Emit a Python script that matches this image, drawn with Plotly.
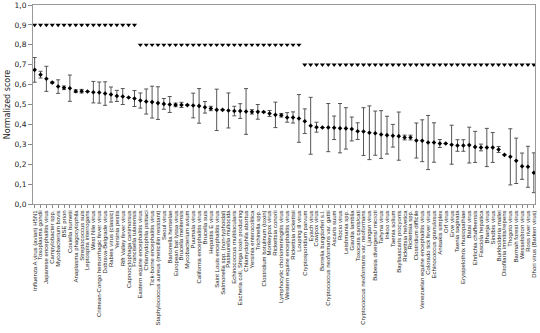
import plotly.graph_objects as go

pathogens = [
    "Influenza A virus (avian) H5N1", "Toxoplasma gondii", "Japanese encephalitis virus",
    "Campylobacter spp.", "Mycobacterium bovis", "BSE prion", "Coxiella burnetii",
    "Anaplasma phagocytophila", "Streptococcus suis", "Leptospira interrogans",
    "West Nile virus", "Crimean-Congo hemorrhagic fever virus", "Dobrava-Belgrade virus",
    "Rabies virus (classic)", "Yersinia pestis", "Rift Valley fever virus",
    "Capnocytophaga canimorsus", "Francisella tularensis",
    "Eastern equine encephalitis virus", "Chlamydophila psittaci",
    "Tick-borne encephalitis virus", "Staphylococcus aureus (meticillin resistant)",
    "Seoul virus", "Bartonella henselae", "European bat lyssa virus",
    "Brucella melitensis", "Mycobacterium avium", "Puumala virus",
    "California encephalitis virus", "Brucella suis", "Hepatitis E virus",
    "Saint Louis encephalitis virus", "Salmonella spp. (non-typhoidal)",
    "Pasteurella multocida", "Echinococcus multilocularis",
    "Escheria coli, Shiga toxin producing", "Chlamydophila abortus",
    "Yersinia enterocolitica", "Trichinella spp.", "Clostridium botulinum (toxin)",
    "Monkeypox virus", "Rickettsia conorii", "Lymphocytic choriomeningitis virus",
    "Western equine encephalitis virus", "Rickettsia rickettsii", "Louping ill virus",
    "Cryptosporidium parvum", "Eyach virus", "Cowpox virus", "Borrelia burgdorferi s.l.",
    "Cryptococcus neoformans var. gattii", "Ascaris suum", "Rocio virus",
    "Leishmania spp.", "Giardia lamblia", "Toxocara canis/cati",
    "Cryptococcus neoformans var. neoformans", "Ljungan virus",
    "Babesia divergens/ microti", "Tahyna virus", "Inkoo virus", "Taenia solium",
    "Baylisascaris procyonis", "Rickettsia helvetica", "Rickettsia spp.",
    "Clostridium difficile", "Venezuelan equine encephalitis virus",
    "Colorado tick fever virus", "Echinococcus granulosus", "Anisakis simplex",
    "Orf virus", "Erve virus", "Taenia saginata", "Erysipelothrix rhusiopathiae",
    "Batai virus", "Ehrlichia chaffeensis", "Fasciola hepatica", "Bhanja virus",
    "Sindbis virus", "Burkholderia mallei", "Dirofilaria immitis/repens",
    "Thogoto virus", "Barmah forest virus", "Wesselsbron virus", "Ross river virus",
    "Dhori virus (Batken virus)",
]

scores = [
    0.674, 0.650, 0.629, 0.610, 0.590, 0.584, 0.582, 0.567, 0.567, 0.565,
    0.562, 0.560, 0.555, 0.550, 0.543, 0.540, 0.535, 0.530, 0.520, 0.515,
    0.512, 0.507, 0.503, 0.500, 0.498, 0.498, 0.497, 0.495, 0.493, 0.486,
    0.480, 0.473, 0.473, 0.470, 0.467, 0.467, 0.465, 0.463, 0.463, 0.462,
    0.455, 0.448, 0.446, 0.435, 0.435, 0.430, 0.416, 0.393, 0.386, 0.384,
    0.384, 0.383, 0.381, 0.380, 0.377, 0.366, 0.364, 0.358, 0.356, 0.349,
    0.346, 0.343, 0.341, 0.334, 0.334, 0.319, 0.318, 0.309, 0.309, 0.304,
    0.304, 0.298, 0.294, 0.294, 0.296, 0.287, 0.284, 0.284, 0.284, 0.274,
    0.247, 0.237, 0.217, 0.190, 0.187, 0.157,
]

errors = [
    0.062, 0.017, 0.063, 0.003, 0.034, 0.009, 0.066, 0.007, 0.009, 0.0,
    0.054, 0.053, 0.059, 0.038, 0.028, 0.040, 0.0, 0.040, 0.038, 0.063,
    0.080, 0.082, 0.027, 0.040, 0.009, 0.013, 0.0, 0.062, 0.087, 0.029,
    0.011, 0.104, 0.0, 0.088, 0.024, 0.037, 0.115, 0.011, 0.037, 0.0,
    0.015, 0.064, 0.009, 0.024, 0.028, 0.120, 0.062, 0.143, 0.025, 0.0,
    0.121, 0.059, 0.124, 0.104, 0.060, 0.042, 0.120, 0.135, 0.111, 0.120,
    0.095, 0.057, 0.121, 0.012, 0.012, 0.088, 0.105, 0.136, 0.099, 0.020,
    0.0, 0.098, 0.029, 0.029, 0.090, 0.078, 0.017, 0.096, 0.075, 0.015,
    0.0, 0.141, 0.114, 0.066, 0.103, 0.100,
]

# cluster groups shown by the triangle rows
group_levels = [0.9, 0.8, 0.7]
group_sizes = [18, 28, 40]

y_ticks = [0.0, 0.1, 0.2, 0.3, 0.4, 0.5, 0.6, 0.7, 0.8, 0.9, 1.0]

xs = list(range(1, len(pathogens) + 1))

fig = go.Figure()

fig.add_trace(go.Scatter(
    x=xs, y=scores, mode="markers",
    marker=dict(symbol="diamond", size=3.5, color="black"),
    error_y=dict(type="data", array=errors, visible=True, color="#555555",
                 thickness=1, width=2),
    showlegend=False,
))

start = 1
for lvl, n in zip(group_levels, group_sizes):
    gx = list(range(start, start + n))
    fig.add_trace(go.Scatter(
        x=gx, y=[lvl] * n, mode="markers",
        marker=dict(symbol="triangle-down", size=4.5, color="black"),
        showlegend=False,
    ))
    start += n

fig.update_layout(
    width=540, height=333,
    margin=dict(l=33, r=5, t=5, b=129),
    plot_bgcolor="white", paper_bgcolor="white",
    separators=", ",
    font=dict(family="DejaVu Sans", color="#222222"),
    xaxis=dict(
        range=[0.72, 86.2],
        tickmode="array", tickvals=xs, ticktext=pathogens,
        tickangle=-90, tickfont=dict(size=6, family="Liberation Sans"),
        ticks="outside", ticklen=3, tickcolor="#888888",
        showline=True, linecolor="#999999", mirror=True,
        showgrid=False, zeroline=False, automargin=False,
    ),
    yaxis=dict(
        range=[0, 1.0],
        tickmode="array", tickvals=y_ticks, tickformat=".1f",
        tickfont=dict(size=7.5),
        ticks="outside", ticklen=4, tickcolor="#888888",
        showline=True, linecolor="#999999", mirror=True,
        showgrid=False, zeroline=False, automargin=False,
        title=dict(text="Normalized score", font=dict(size=8), standoff=2),
    ),
)

fig.write_html("out.html")
